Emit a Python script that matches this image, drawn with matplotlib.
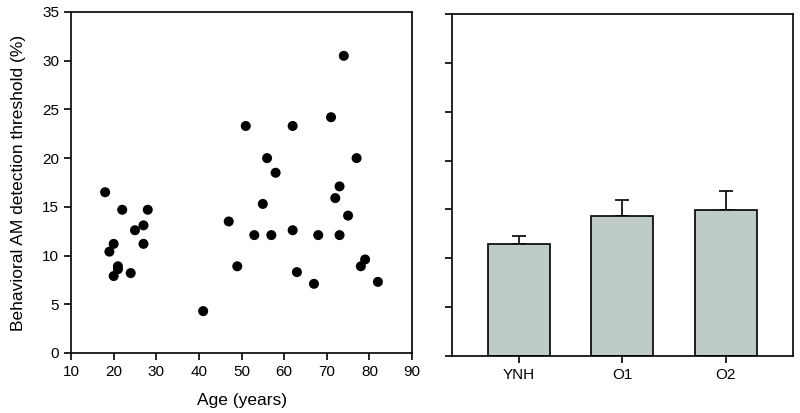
import matplotlib
matplotlib.use("Agg")
import matplotlib.pyplot as plt
import numpy as np

plt.rcParams['font.family'] = ['Liberation Sans', 'DejaVu Sans']

age = [18, 22, 28, 27, 25, 20, 27, 19, 21, 21, 20, 24,
       41, 47, 49, 53, 55, 57, 62, 63, 67, 68, 72, 73, 73, 75, 78, 79, 82,
       74, 51, 62, 71, 56, 77, 58]
threshold = [16.5, 14.7, 14.7, 13.1, 12.6, 11.2, 11.2, 10.4, 8.9, 8.6, 7.9, 8.2,
             4.3, 13.5, 8.9, 12.1, 15.3, 12.1, 12.6, 8.3, 7.1, 12.1, 15.9, 17.1, 12.1, 14.1, 8.9, 9.6, 7.3,
             30.5, 23.3, 23.3, 24.2, 20.0, 20.0, 18.5]

groups = ['YNH', 'O1', 'O2']
group_means = [11.5, 14.3, 14.9]
group_err = [0.8, 1.7, 2.0]

fig = plt.figure(figsize=(8, 4.13), dpi=100)
ax1 = fig.add_axes([0.0888, 0.1453, 0.4262, 0.8257])
ax2 = fig.add_axes([0.565, 0.138, 0.426, 0.828])

ax1.scatter(age, threshold, s=52, c='black', edgecolors='none', zorder=3)
ax1.set_xlim(10, 90)
ax1.set_ylim(0, 35)
ax1.set_xticks(range(10, 91, 10))
ax1.set_yticks(range(0, 36, 5))
ax1.set_xlabel('Age (years)', fontsize=12.5, labelpad=10)
ax1.set_ylabel('Behavioral AM detection threshold (%)', fontsize=12.5, labelpad=12)

x = np.arange(len(groups))
ax2.bar(x, group_means, width=0.6, color='#bfcbc8', edgecolor='black', linewidth=1.2, zorder=2)
ax2.errorbar(x, group_means, yerr=[np.zeros(len(groups)), group_err], fmt='none',
             ecolor='black', elinewidth=1.2, capsize=5, capthick=1.2, zorder=1)
ax2.set_xlim(-0.646, 2.646)
ax2.set_ylim(0, 35)
ax2.set_yticks(range(0, 36, 5))
ax2.set_yticklabels([])
ax2.set_xticks(x)
ax2.set_xticklabels(groups)

for ax in (ax1, ax2):
    for sp in ax.spines.values():
        sp.set_linewidth(1.2)
    ax.tick_params(direction='out', length=5, width=1.2, labelsize=11, top=False, right=False)

fig.savefig('out.png', dpi=100)
